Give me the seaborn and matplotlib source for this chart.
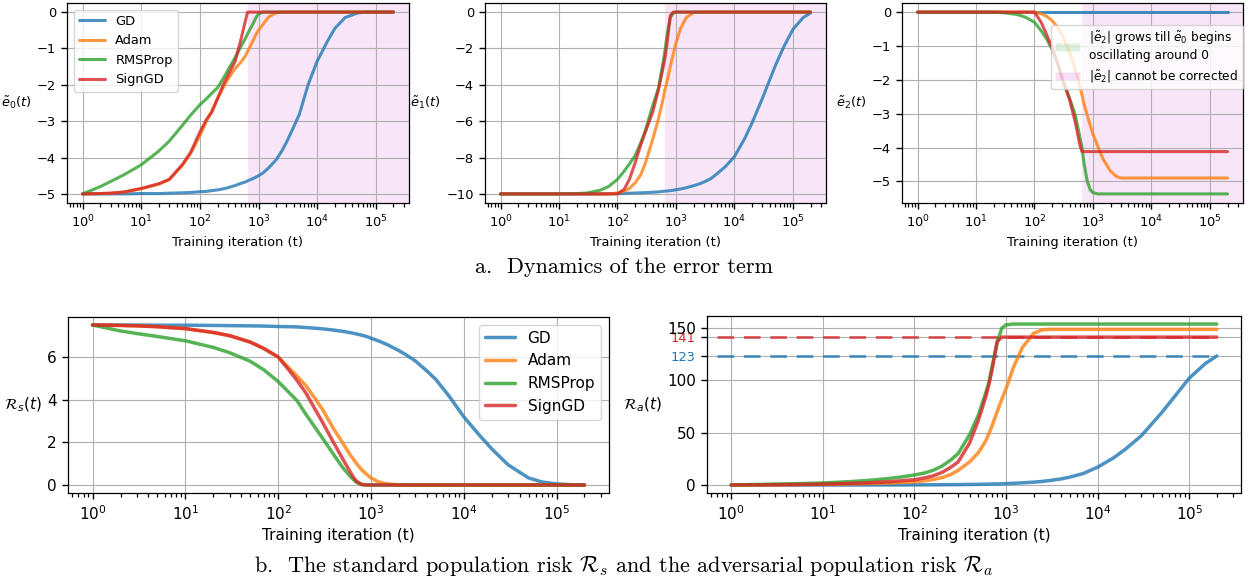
import matplotlib
matplotlib.use("Agg")
import matplotlib.pyplot as plt
from matplotlib.lines import Line2D
from matplotlib.patches import Patch
from matplotlib.ticker import LogLocator
import pandas as pd
import seaborn as sns

# plain matplotlib-like look: white background, grey grid, black frame
sns.set_style("ticks", {
    "axes.grid": True,
    "grid.color": "#b0b0b0",
    "axes.edgecolor": "black",
    "axes.labelcolor": "black",
    "text.color": "black",
    "xtick.color": "black",
    "ytick.color": "black",
})
plt.rcParams["font.family"] = ["DejaVu Sans"]
plt.rcParams["axes.linewidth"] = 0.9
plt.rcParams["grid.linewidth"] = 0.8

# DATA
optimizers = ["GD", "Adam", "RMSProp", "SignGD"]
palette = {"GD": "#1f77b4", "Adam": "#ff7f0e", "RMSProp": "#2ca02c", "SignGD": "#d62728"}

iters = [1, 2, 3, 5, 10, 20, 30, 50, 70, 100, 130, 160, 200, 250, 300, 400, 500, 600, 650, 700,
         800, 900, 1000, 1200, 1500, 2000, 2500, 3000, 4000, 5000, 7000, 10000, 15000, 20000,
         30000, 50000, 70000, 100000, 150000, 200000]

# error term e0
e0_gd = [-5.0, -5.0, -5.0, -5.0, -4.99, -4.99, -4.98, -4.97, -4.96, -4.94, -4.93, -4.91, -4.89, -4.86,
         -4.83, -4.77, -4.71, -4.67, -4.64, -4.62, -4.58, -4.54, -4.5, -4.42, -4.28, -4.06, -3.82, -3.58,
         -3.15, -2.8, -2.0, -1.35, -0.8, -0.45, -0.15, -0.02, 0, 0, 0, 0]
e0_adam = [-5.0, -4.99, -4.98, -4.95, -4.86, -4.73, -4.61, -4.22, -3.88, -3.4, -3.0, -2.72, -2.38, -2.08,
           -1.85, -1.55, -1.38, -1.2, -1.08, -0.98, -0.8, -0.62, -0.5, -0.33, -0.13, -0.02, 0, 0,
           0, 0, 0, 0, 0, 0, 0, 0, 0, 0, 0, 0]
e0_rms = [-5.0, -4.8, -4.66, -4.48, -4.2, -3.82, -3.55, -3.12, -2.83, -2.55, -2.38, -2.23, -2.08, -1.83,
          -1.6, -1.25, -0.95, -0.72, -0.6, -0.5, -0.33, -0.16, -0.05, 0, 0, 0, 0, 0,
          0, 0, 0, 0, 0, 0, 0, 0, 0, 0, 0, 0]
e0_sign = [-5.0, -4.99, -4.98, -4.95, -4.85, -4.72, -4.6, -4.2, -3.85, -3.3, -2.95, -2.75, -2.38, -2.0,
           -1.75, -1.35, -0.76, -0.23, 0, 0, 0, 0, 0, 0, 0, 0, 0, 0,
           0, 0, 0, 0, 0, 0, 0, 0, 0, 0, 0, 0]

# error term e1
e1_gd = [-10, -10, -10, -10, -10, -10, -10, -10, -9.99, -9.98, -9.97, -9.96, -9.95, -9.94,
         -9.93, -9.91, -9.89, -9.86, -9.85, -9.84, -9.82, -9.8, -9.77, -9.73, -9.66, -9.55, -9.45, -9.35,
         -9.15, -8.9, -8.5, -7.95, -6.95, -6.1, -4.75, -2.95, -1.9, -0.95, -0.3, -0.05]
e1_adam = [-10, -10, -10, -10, -10, -10, -10, -10, -10, -9.95, -9.85, -9.7, -9.4, -8.95,
           -8.3, -7.0, -5.9, -4.8, -4.25, -3.85, -3.0, -2.3, -1.7, -0.9, -0.3, -0.02, 0, 0,
           0, 0, 0, 0, 0, 0, 0, 0, 0, 0, 0, 0]
e1_rms = [-10, -10, -10, -10, -10, -9.98, -9.95, -9.8, -9.6, -9.2, -8.75, -8.35, -7.9, -7.2,
          -6.5, -5.15, -4.2, -2.8, -2.1, -1.3, -0.3, -0.05, 0, 0, 0, 0, 0, 0,
          0, 0, 0, 0, 0, 0, 0, 0, 0, 0, 0, 0]
e1_sign = [-10, -10, -10, -10, -10, -10, -10, -10, -10, -10, -9.75, -9.2, -8.3, -7.3,
           -6.6, -5.5, -4.3, -3.1, -2.5, -1.8, -0.2, 0, 0, 0, 0, 0, 0, 0,
           0, 0, 0, 0, 0, 0, 0, 0, 0, 0, 0, 0]

# error term e2
e2_gd = [0, 0, 0, 0, 0, 0, 0, 0, 0, 0, 0, 0, 0, 0, 0, 0, 0, 0, 0, 0,
         0, 0, 0, 0, 0, 0, 0, 0, 0, 0, 0, 0, 0, 0, 0, 0, 0, 0, 0, 0]
e2_adam = [0, 0, 0, 0, 0, 0, 0, 0, 0, 0, -0.05, -0.12, -0.25, -0.45,
           -0.7, -1.2, -1.7, -2.2, -2.45, -2.7, -3.05, -3.35, -3.6, -3.95, -4.35, -4.7, -4.85, -4.9,
           -4.9, -4.9, -4.9, -4.9, -4.9, -4.9, -4.9, -4.9, -4.9, -4.9, -4.9, -4.9]
e2_rms = [0, 0, 0, 0, 0, 0, -0.02, -0.07, -0.15, -0.3, -0.55, -0.78, -1.1, -1.55,
          -2.0, -2.55, -3.05, -3.7, -4.0, -4.45, -5.0, -5.25, -5.33, -5.37, -5.37, -5.37, -5.37, -5.37,
          -5.37, -5.37, -5.37, -5.37, -5.37, -5.37, -5.37, -5.37, -5.37, -5.37, -5.37, -5.37]
e2_sign = [0, 0, 0, 0, 0, 0, 0, 0, 0, 0, -0.3, -0.65, -1.05, -1.5,
           -1.95, -2.6, -3.26, -3.94, -4.12, -4.12, -4.12, -4.12, -4.12, -4.12, -4.12, -4.12, -4.12, -4.12,
           -4.12, -4.12, -4.12, -4.12, -4.12, -4.12, -4.12, -4.12, -4.12, -4.12, -4.12, -4.12]

# standard population risk
rs_gd = [7.5, 7.5, 7.5, 7.49, 7.49, 7.48, 7.47, 7.46, 7.45, 7.43, 7.42, 7.41, 7.38, 7.35,
         7.32, 7.26, 7.2, 7.14, 7.11, 7.08, 7.02, 6.96, 6.88, 6.76, 6.58, 6.3, 6.05, 5.82,
         5.35, 4.95, 4.15, 3.2, 2.3, 1.7, 0.95, 0.33, 0.14, 0.05, 0.01, 0]
rs_adam = [7.5, 7.48, 7.46, 7.42, 7.33, 7.15, 7.0, 6.7, 6.4, 6.0, 5.5, 5.1, 4.65, 4.05,
           3.55, 2.6, 1.95, 1.4, 1.2, 1.0, 0.7, 0.5, 0.33, 0.15, 0.05, 0.01, 0, 0,
           0, 0, 0, 0, 0, 0, 0, 0, 0, 0, 0, 0]
rs_rms = [7.5, 7.22, 7.1, 6.96, 6.76, 6.45, 6.2, 5.8, 5.4, 4.85, 4.35, 3.95, 3.3, 2.7,
          2.2, 1.4, 0.8, 0.4, 0.25, 0.12, 0.02, 0, 0, 0, 0, 0, 0, 0,
          0, 0, 0, 0, 0, 0, 0, 0, 0, 0, 0, 0]
rs_sign = [7.5, 7.48, 7.46, 7.42, 7.33, 7.15, 7.0, 6.7, 6.4, 6.0, 5.4, 4.9, 4.3, 3.55,
           2.95, 1.95, 1.2, 0.6, 0.35, 0.17, 0.02, 0, 0, 0, 0, 0, 0, 0,
           0, 0, 0, 0, 0, 0, 0, 0, 0, 0, 0, 0]

# adversarial population risk
ra_gd = [0, 0, 0, 0, 0, 0, 0, 0, 0, 0.1, 0.15, 0.2, 0.25, 0.3,
         0.35, 0.5, 0.6, 0.75, 0.8, 0.9, 1.0, 1.1, 1.3, 1.6, 2.0, 2.7, 3.4, 4.2,
         5.8, 7.5, 11, 17, 26, 34, 47, 69, 85, 102, 116, 123.3]
ra_adam = [0, 0.1, 0.15, 0.3, 0.6, 1.0, 1.3, 1.8, 2.3, 3.0, 4.0, 5.2, 7.0, 10,
           14, 22, 31, 42, 49, 56, 70, 82, 92, 112, 131, 145, 148.3, 148.7,
           148.7, 148.7, 148.7, 148.7, 148.7, 148.7, 148.7, 148.7, 148.7, 148.7, 148.7, 148.7]
ra_rms = [0, 0.5, 0.8, 1.2, 1.9, 3.2, 4.2, 6.0, 7.5, 9.5, 11.5, 14, 18, 24,
          30, 48, 67, 88, 98, 112, 136, 150, 153, 153.8, 153.8, 153.8, 153.8, 153.8,
          153.8, 153.8, 153.8, 153.8, 153.8, 153.8, 153.8, 153.8, 153.8, 153.8, 153.8, 153.8]
ra_sign = [0, 0.1, 0.2, 0.4, 0.8, 1.5, 2.0, 3.0, 3.9, 5.0, 6.8, 8.7, 12, 17,
           22, 40, 62, 84, 96, 109, 137, 141.3, 141.3, 141.3, 141.3, 141.3, 141.3, 141.3,
           141.3, 141.3, 141.3, 141.3, 141.3, 141.3, 141.3, 141.3, 141.3, 141.3, 141.3, 141.3]

ra_limit_gd = 123
ra_limit_sign = 141
span_start = 650

e0_ticks = [0, -1, -2, -3, -4, -5]
e1_ticks = [0, -2, -4, -6, -8, -10]
e2_ticks = [0, -1, -2, -3, -4, -5]
rs_ticks = [0, 2, 4, 6]
ra_ticks = [0, 50, 100, 123, 141, 150]

XLIM = (0.543, 3.68e5)
W, H = 1248, 582


def rect(l, r, t, b):
    return [l / W, 1 - b / H, (r - l) / W, (b - t) / H]


def long_frame(series):
    parts = []
    for name, vals in zip(optimizers, series):
        parts.append(pd.DataFrame({"iteration": iters, "value": vals, "optimizer": name}))
    return pd.concat(parts, ignore_index=True)


def draw_panel(ax, series, ylabel, yticks, fs, lw):
    ax.set_xscale("log")
    df = long_frame(series)
    sns.lineplot(data=df, x="iteration", y="value", hue="optimizer", hue_order=optimizers,
                 palette=palette, estimator=None, sort=False, lw=lw, alpha=0.8,
                 legend=False, ax=ax)
    ax.set_xlim(*XLIM)
    ax.xaxis.set_major_locator(LogLocator(base=10, numticks=20))
    ax.xaxis.set_minor_locator(LogLocator(base=10, subs=(2, 3, 4, 5, 6, 7, 8, 9), numticks=100))
    ax.set_yticks(yticks)
    ax.set_xlabel("Training iteration (t)", fontsize=fs)
    ax.set_ylabel(ylabel, rotation=0, ha="right", va="center", fontsize=fs)
    ax.tick_params(labelsize=fs)
    ax.tick_params(axis="x", which="minor", bottom=True, length=3, width=0.9, color="black")
    ax.tick_params(axis="both", which="major", length=4.5, width=1.0, color="black")
    ax.grid(True, which="major")


def line_handles(lw):
    return [Line2D([0], [0], color=palette[o], lw=lw, alpha=0.8) for o in optimizers]


fig = plt.figure(figsize=(12.48, 5.82), dpi=100)

# a. error term dynamics
top_fs = 9.4
ax1 = fig.add_axes(rect(67, 409, 3, 203))
ax2 = fig.add_axes(rect(485, 826, 3, 203))
ax3 = fig.add_axes(rect(902, 1243, 3, 203))

draw_panel(ax1, [e0_gd, e0_adam, e0_rms, e0_sign], r"$\tilde{e}_0(t)$", e0_ticks, top_fs, 2.2)
draw_panel(ax2, [e1_gd, e1_adam, e1_rms, e1_sign], r"$\tilde{e}_1(t)$", e1_ticks, top_fs, 2.2)
draw_panel(ax3, [e2_gd, e2_adam, e2_rms, e2_sign], r"$\tilde{e}_2(t)$", e2_ticks, top_fs, 2.2)

for ax in (ax1, ax2, ax3):
    ax.axvspan(span_start, XLIM[1], color="m", alpha=0.1, lw=0, zorder=0)

ax1.legend(line_handles(2.2), optimizers, loc="upper left", fontsize=top_fs)

span_handles = [Patch(facecolor="tab:green", alpha=0.15), Patch(facecolor="m", alpha=0.12)]
span_labels = [r"$|\tilde{e}_2|$ grows till $\tilde{e}_0$ begins" + "\noscillating around 0",
               r"$|\tilde{e}_2|$ cannot be corrected"]
ax3.legend(span_handles, span_labels, loc="upper right", bbox_to_anchor=(1.0, 0.89),
           borderaxespad=0, fontsize=8.7)

# b. standard and adversarial population risk
bot_fs = 11
ax4 = fig.add_axes(rect(68, 609, 317, 493))
ax5 = fig.add_axes(rect(707, 1241, 316, 493))

draw_panel(ax4, [rs_gd, rs_adam, rs_rms, rs_sign], r"$\mathcal{R}_s(t)$", rs_ticks, bot_fs, 2.5)
draw_panel(ax5, [ra_gd, ra_adam, ra_rms, ra_sign], r"$\mathcal{R}_a(t)$", ra_ticks, bot_fs, 2.5)

ax4.legend(line_handles(2.5), optimizers, loc="upper right", fontsize=bot_fs)

ax5.hlines(ra_limit_sign, 0.69, iters[-1], colors=palette["SignGD"], linestyles=(0, (6, 3.5)),
           lw=2, alpha=0.75, zorder=1.5)
ax5.hlines(ra_limit_gd, 0.69, iters[-1], colors=palette["GD"], linestyles=(0, (6, 3.5)),
           lw=2, alpha=0.75, zorder=1.5)
ax5.set_xlim(*XLIM)
for lab, val in zip(ax5.get_yticklabels(), ra_ticks):
    if val == ra_limit_sign:
        lab.set_color(palette["SignGD"])
        lab.set_fontsize(9.4)
    elif val == ra_limit_gd:
        lab.set_color(palette["GD"])
        lab.set_fontsize(9.4)

# captions
fig.text(0.5, 1 - 267 / H, "a.  Dynamics of the error term", family="cmr10",
         fontsize=16, ha="center", va="center")
fig.text(0.5, 1 - 566 / H,
         r"b.  The standard population risk $\mathcal{R}_s$ and the adversarial population risk $\mathcal{R}_a$",
         family="cmr10", math_fontfamily="cm", fontsize=16, ha="center", va="center")

fig.savefig("out.png", dpi=100)
